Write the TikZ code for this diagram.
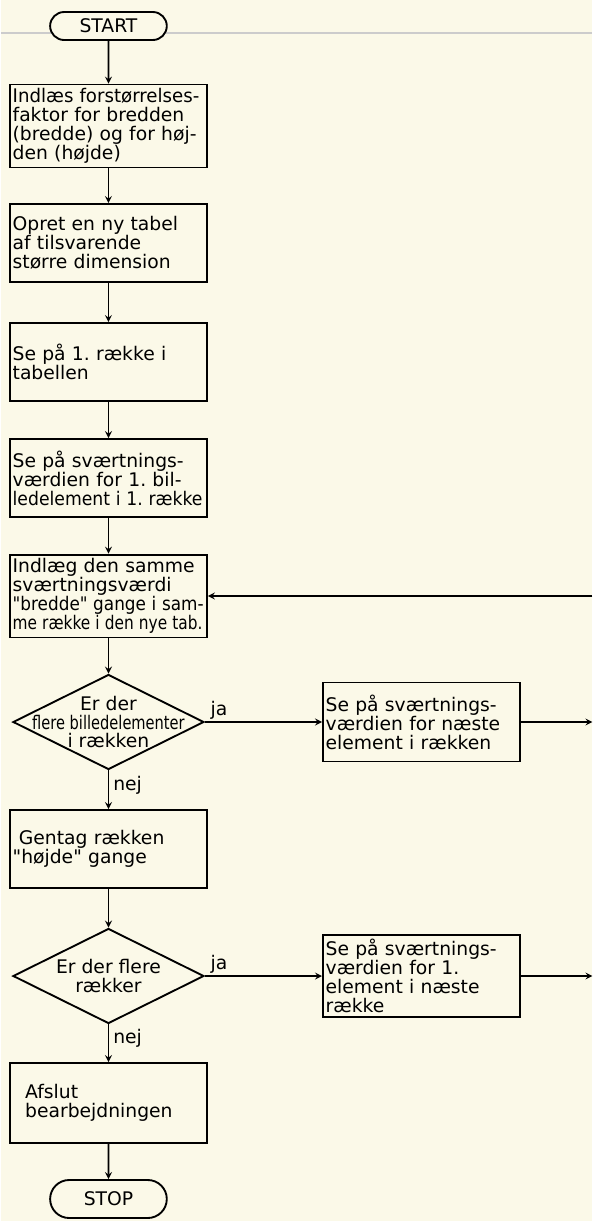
\documentclass[tikz,border=0pt]{standalone}
\usepackage{fontspec}
\defaultfontfeatures[\rmfamily]{}
\setmainfont{DejaVu Sans}
\usepackage{graphicx}
\usetikzlibrary{shapes.geometric,shapes.misc}
\definecolor{paper}{RGB}{251,249,232}
\tikzset{every picture/.style={line width=1.6pt}}
\newcommand{\squeeze}[2][0.85]{\scalebox{#1}[1]{#2}}
\frenchspacing

\begin{document}
\begin{tikzpicture}[x=0.03cm, y=-0.03cm, >=stealth,
    every node/.style={font=\fontsize{16}{16.2}\selectfont},
    box/.style={draw, rectangle, minimum width=5.91cm, minimum height=2.34cm,
        text width=5.91cm-4.6pt, align=left, inner xsep=2pt},
    terminal/.style={draw, rounded rectangle, fill=paper, minimum width=3.5cm,
        minimum height=0.84cm, inner sep=0pt},
    decision/.style={draw, diamond, minimum width=5.73cm, minimum height=2.85cm,
        inner sep=0pt}]
        % paper and the fold line of the scan
        \fill[paper] (0,0) rectangle (591,1221);
        \draw[black!20, line width=2.5pt] (0,33) -- (591,33);
        % main column
        \node[terminal] (start) at (107,26) {START};
        \node[box] (b1) at (107,126) {\squeeze[0.97]{Indlæs forstørrelses-}\\faktor for bredden\\(bredde) og for høj-\\den (højde)};
        \node[box] (b2) at (107,243) {Opret en ny tabel\\af tilsvarende\\større dimension};
        \node[box] (b3) at (107,362) {Se på 1. række i\\tabellen};
        \node[box] (b4) at (107,478) {Se på sværtnings-\\værdien for 1. bil-\\\squeeze[0.92]{ledelement i 1. række}};
        \node[box] (b5) at (107,596) {Indlæg den samme\\sværtningsværdi\\\squeeze[0.9]{"bredde" gange i sam-}\\\squeeze[0.82]{me række i den nye tab.}};
        \node[decision] (q1) at (107,722) {};
        \node[align=center] (q1txt) at (q1) {Er der\\\squeeze[0.78]{flere billedelementer}\\i rækken};
        \node[box] (b7) at (107,849) {\ Gentag rækken\\"højde" gange};
        \node[decision] (q2) at (107,976) {};
        \node[align=center] (q2txt) at (q2) {Er der flere\\rækker};
        \node[box, minimum height=2.4cm] (b9) at (107,1103) {\ \ Afslut\\\ \ bearbejdningen};
        \node[terminal, minimum height=1.14cm] (stop) at (107,1199) {STOP};
        % right column
        \node[box, minimum height=2.37cm] (b6) at (420,722) {Se på sværtnings-\\værdien for næste\\element i rækken};
        \node[box, minimum height=2.37cm] (b8) at (420,976) {Se på sværtnings-\\værdien for 1.\\element i næste\\række};
        \coordinate (back) at (591,596);
        \coordinate (out1) at (591,722);
        \coordinate (out2) at (591,976);
        % connectors
        \draw[->] (start) -- (b1);
        \draw[->] (b1) -- (b2);
        \draw[->] (b2) -- (b3);
        \draw[->] (b3) -- (b4);
        \draw[->] (b4) -- (b5);
        \draw[->] (b5) -- (q1);
        \draw[->] (q1) -- node[pos=0.12, above, inner sep=1.5pt] {ja} (b6);
        \draw[->] (q1) -- node[pos=0.38, right] {nej} (b7);
        \draw[->] (b6) -- (out1);
        \draw[->] (back) -- (b5);
        \draw[->] (b7) -- (q2);
        \draw[->] (q2) -- node[pos=0.12, above, inner sep=1.5pt] {ja} (b8);
        \draw[->] (q2) -- node[pos=0.38, right] {nej} (b9);
        \draw[->] (b8) -- (out2);
        \draw[->] (b9) -- (stop);
    \end{tikzpicture}
\end{document}
